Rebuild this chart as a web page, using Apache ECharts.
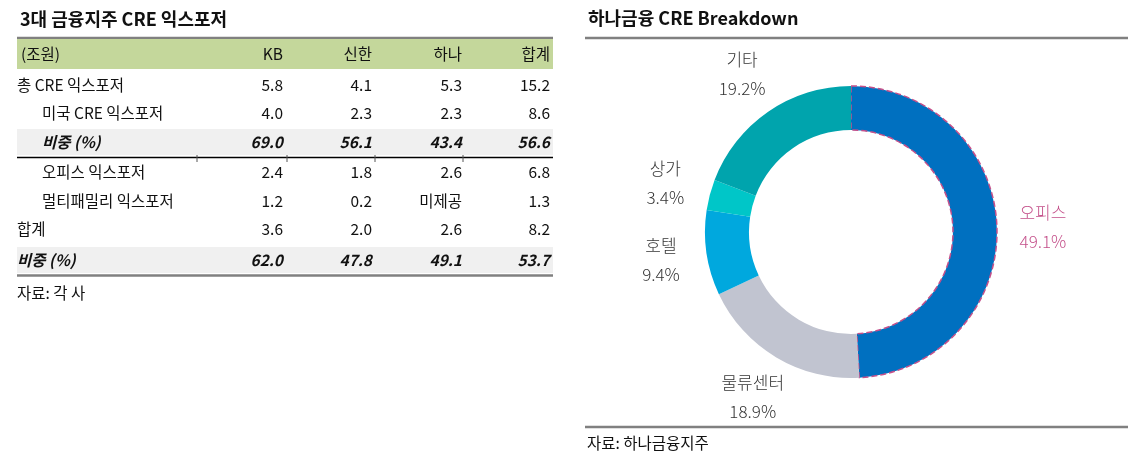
<!DOCTYPE html>
<html>
<head>
<meta charset="utf-8">
<script src="https://cdn.jsdelivr.net/npm/echarts@6/dist/echarts.min.js"></script>
<style>
html,body{margin:0;padding:0;background:#fff;}
#chart{width:1130px;height:465px;}
</style>
</head>
<body>
<div id="chart"></div>
<script>
// ---- Left table data ----
const tableTitle = '3대 금융지주 CRE 익스포저';
const tableSource = '자료: 각 사';
const columnHeaders = ['(조원)', 'KB', '신한', '하나', '합계'];
const rowLabels = ['총 CRE 익스포저', '미국 CRE 익스포저', '비중 (%)', '오피스 익스포저', '멀티패밀리 익스포저', '합계', '비중 (%)'];
const rowLevels = [0, 1, 1, 1, 1, 0, 0];
const rowKinds = ['value', 'value', 'share', 'value', 'value', 'value', 'share'];
const kbValues = ['5.8', '4.0', '69.0', '2.4', '1.2', '3.6', '62.0'];
const shinhanValues = ['4.1', '2.3', '56.1', '1.8', '0.2', '2.0', '47.8'];
const hanaValues = ['5.3', '2.3', '43.4', '2.6', '미제공', '2.6', '49.1'];
const totalValues = ['15.2', '8.6', '56.6', '6.8', '1.3', '8.2', '53.7'];

// ---- Right donut data ----
const pieTitle = '하나금융 CRE Breakdown';
const pieSource = '자료: 하나금융지주';
const pieCategories = ['오피스', '물류센터', '호텔', '상가', '기타'];
const pieValues = [49.1, 18.9, 9.4, 3.4, 19.2];

// ---- layout / style ----
const FONT = '"Noto Sans CJK KR", "Noto Sans", sans-serif';
const pieColors = ['#0070c0', '#c1c4d0', '#00a8de', '#00c6c8', '#00a4ad'];
const pieLabelColors = ['#c4508a', '#333333', '#333333', '#333333', '#333333'];

const graphics = [];
function txt(text, x, y, opt) {
  opt = opt || {};
  graphics.push({
    type: 'text', silent: true,
    style: {
      text: text, x: x, y: y,
      fill: opt.fill || '#111',
      fontSize: opt.size || 15,
      fontFamily: FONT,
      fontWeight: opt.weight || 'normal',
      fontStyle: opt.style || 'normal',
      textAlign: opt.align || 'left', align: opt.align || 'left',
      textVerticalAlign: 'middle', verticalAlign: 'middle'
    }
  });
}
function rect(x, y, w, h, fill) {
  graphics.push({ type: 'rect', silent: true, shape: { x: x, y: y, width: w, height: h }, style: { fill: fill } });
}
function line(x1, y1, x2, y2, stroke, width) {
  graphics.push({ type: 'line', silent: true, shape: { x1: x1, y1: y1, x2: x2, y2: y2 }, style: { stroke: stroke, lineWidth: width } });
}

// Table geometry
const tL = 17, tR = 553;
const colRight = [null, 283, 372, 462, 550];
const colSep = [197, 287, 375, 463];
const headerTop = 39, headerBottom = 69;
const rowCenters = [85, 113, 142, 172, 201, 229, 260];
const rowHalf = 13;

txt(tableTitle, 20, 19, { size: 18, weight: 'bold' });
line(tL, 38, tR, 38, '#808080', 2.5);
rect(tL, headerTop, tR - tL, headerBottom - headerTop, '#c4d79b');

const columnData = [null, kbValues, shinhanValues, hanaValues, totalValues];
columnHeaders.forEach(function (h, i) {
  if (i === 0) txt(h, 21, 54, { size: 15.5 });
  else txt(h, colRight[i], 54, { size: 15.5, align: 'right' });
});
rowLabels.forEach(function (lab, r) {
  const cy = rowCenters[r];
  const share = rowKinds[r] === 'share';
  if (share) rect(tL, cy - rowHalf, tR - tL, rowHalf * 2, '#f0f0f0');
  const st = share ? { size: 15.5, weight: 'bold', style: 'italic' } : { size: 15.5 };
  txt(lab, rowLevels[r] ? 42 : 17, cy, st);
  for (let c = 1; c < 5; c++) {
    txt(columnData[c][r], colRight[c], cy, Object.assign({ align: 'right' }, st));
  }
});
line(tL, 157.5, tR, 157.5, '#000', 1.3);
colSep.forEach(function (x) { line(x, 155, x, 162, '#555', 1); });
line(tL, 275.5, tR, 275.5, '#808080', 2.5);
txt(tableSource, 17, 293, { size: 15.5 });

// Right panel
txt(pieTitle, 588, 18, { size: 18, weight: 'bold' });
line(585, 38, 1128, 38, '#808080', 2.5);
line(585, 427, 1128, 427, '#808080', 2.5);
txt(pieSource, 587, 443, { size: 15.5 });

const pieCenter = [851, 232];
const ringData = pieCategories.map(function (name, i) {
  const d = { name: name, value: pieValues[i], itemStyle: { color: pieColors[i], borderWidth: 0 } };
  if (i === 0) d.itemStyle = { color: pieColors[i], borderColor: '#c4508a', borderType: 'dashed', borderWidth: 1.5 };
  return d;
});
const labelData = pieCategories.map(function (name, i) {
  return { name: name, value: pieValues[i], label: { color: pieLabelColors[i] } };
});

const chart = echarts.init(document.getElementById('chart'), null, { renderer: 'canvas' });
chart.setOption({
  animation: false,
  backgroundColor: '#ffffff',
  graphic: { elements: graphics },
  series: [
    {
      type: 'pie', silent: true,
      center: pieCenter, radius: [102, 146],
      startAngle: 90, clockwise: true,
      label: { show: false }, labelLine: { show: false },
      data: ringData
    },
    {
      type: 'pie', silent: true,
      center: pieCenter, radius: [178, 200],
      startAngle: 90, clockwise: true,
      itemStyle: { color: 'rgba(0,0,0,0)', borderWidth: 0 },
      labelLine: { show: false },
      label: {
        show: true, position: 'inside', rotate: 0,
        fontFamily: FONT, fontSize: 17, fontWeight: 300, lineHeight: 29,
        formatter: function (p) { return p.name + '\n' + p.value.toFixed(1) + '%'; }
      },
      data: labelData
    }
  ]
});
</script>
</body>
</html>
